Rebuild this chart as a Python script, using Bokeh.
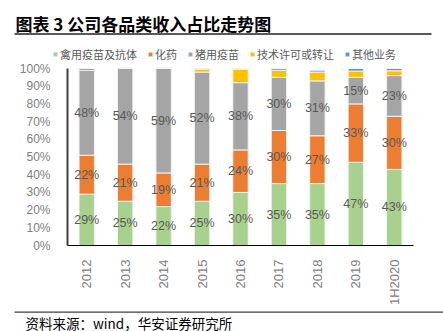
from bokeh.plotting import figure
from bokeh.models import (ColumnDataSource, LabelSet, Label, NumeralTickFormatter, FixedTicker,
                          Range1d, Legend, LegendItem, BoxAnnotation)
from bokeh.embed import file_html
from bokeh.resources import INLINE
from bokeh.core.properties import value
import numpy as np

# ---------------- data ----------------
years = ["2012", "2013", "2014", "2015", "2016", "2017", "2018", "2019", "1H2020"]
poultry = [29, 25, 22, 25, 30, 35, 35, 47, 43]
chem = [22, 21, 19, 21, 24, 30, 27, 33, 30]
swine = [48, 54, 59, 52, 38, 30, 31, 15, 23]
tech = [0, 0, 0, 1.7, 7.5, 4, 5, 3.5, 2.7]
other = [1, 0.3, 0.3, 0.3, 0.5, 1, 1, 1.5, 1.3]
series_names = ["禽用疫苗及抗体", "化药", "猪用疫苗", "技术许可或转让", "其他业务"]
colors = ["#A9D18E", "#ED7D31", "#A5A5A5", "#FFC000", "#5B9BD5"]
title_text = "图表 3 公司各品类收入占比走势图"
source_text = "资料来源：wind，华安证券研究所"

CJK = "Noto Sans CJK SC"
LAT = "Liberation Sans"
W, H = 443, 331

# layout geometry (canvas pixels) -> data coordinates
FX0, FX1, FY0, FY1 = 67, 413, 68, 245
n = len(years)
unit = (FX1 - FX0) / n
def px2x(c):
    return (c - FX0) / unit - 0.5
def py2y(r):
    return (FY1 - r) / (FY1 - FY0)

keys = ["poultry", "chem", "swine", "tech", "other"]
xs = list(range(n))
data = {"x": xs}
for k, arr in zip(keys, [poultry, chem, swine, tech, other]):
    data[k] = [v / 100 for v in arr]
src = ColumnDataSource(data)

p = figure(width=W, height=H, output_backend="svg", toolbar_location=None,
           x_range=Range1d(px2x(0), px2x(W)), y_range=Range1d(py2y(H), py2y(0)),
           min_border=0, min_border_left=0, min_border_right=0, min_border_top=0, min_border_bottom=0)
p.outline_line_color = None
p.grid.grid_line_color = None

renderers = p.vbar_stack(keys, x="x", width=0.4, source=src, color=colors,
                         line_color="#F2F2F2", line_width=1)

cum = np.zeros(n)
for arr in [poultry, chem, swine]:
    a = np.array(arr, dtype=float)
    mids = (cum + a / 2) / 100
    cum = cum + a
    ls = ColumnDataSource(dict(x=xs, y=list(mids), t=[f"{int(round(v))}%" for v in arr]))
    p.add_layout(LabelSet(x="x", y="y", text="t", source=ls, text_align="center", text_baseline="middle",
                          text_font=value(LAT), text_font_size="12.5px", text_color="#595959"))

# y axis
p.yaxis.fixed_location = -0.5
p.yaxis.bounds = (0, 1)
p.yaxis.ticker = FixedTicker(ticks=[i / 10 for i in range(11)])
p.yaxis.formatter = NumeralTickFormatter(format="0%")
p.yaxis.major_label_text_font = LAT
p.yaxis.major_label_text_font_size = "12px"
p.yaxis.major_label_text_color = "#808080"
p.yaxis.major_tick_line_color = None
p.yaxis.minor_tick_line_color = None
p.yaxis.axis_line_color = "#404040"
p.yaxis.axis_line_width = 2
p.yaxis.major_label_standoff = 11

# x axis
p.xaxis.fixed_location = 0
p.xaxis.bounds = (-0.5, n - 0.5)
p.xaxis.ticker = FixedTicker(ticks=xs)
p.xaxis.major_label_overrides = {i: y for i, y in zip(xs, years)}
p.xaxis.major_label_orientation = np.pi / 2
p.xaxis.major_label_text_font = LAT
p.xaxis.major_label_text_font_size = "13px"
p.xaxis.major_label_text_color = "#808080"
p.xaxis.major_tick_line_color = None
p.xaxis.minor_tick_line_color = None
p.xaxis.axis_line_color = "#000000"
p.xaxis.axis_line_width = 1
p.xaxis.major_label_standoff = 8

# legend
leg = Legend(items=[LegendItem(label=nm, renderers=[r]) for nm, r in zip(series_names, renderers)],
             orientation="horizontal", location=(52, H - 62), label_text_font=CJK,
             label_text_font_size="11px", label_text_color="#595959", glyph_width=6, glyph_height=6,
             spacing=10, label_standoff=2, padding=0, margin=0, border_line_color=None,
             background_fill_alpha=0, label_height=12)
p.add_layout(leg)

# title, rules, source
p.add_layout(Label(x=px2x(15), y=py2y(22.5), text=title_text, text_font=CJK, text_font_style="bold",
                   text_font_size="17px", text_color="#000000", text_baseline="middle"))
p.add_layout(BoxAnnotation(left=px2x(14), right=px2x(431), top=py2y(32.5), bottom=py2y(34.5),
                           fill_color="#595959", fill_alpha=1, line_color=None))
p.add_layout(BoxAnnotation(left=px2x(14), right=px2x(W), top=py2y(311), bottom=py2y(312.2),
                           fill_color="#404040", fill_alpha=1, line_color=None))
p.add_layout(Label(x=px2x(25), y=py2y(322), text=source_text, text_font=CJK, text_font_size="13.5px",
                   text_color="#000000", text_baseline="middle"))

open("out.html", "w").write(file_html(p, INLINE))
